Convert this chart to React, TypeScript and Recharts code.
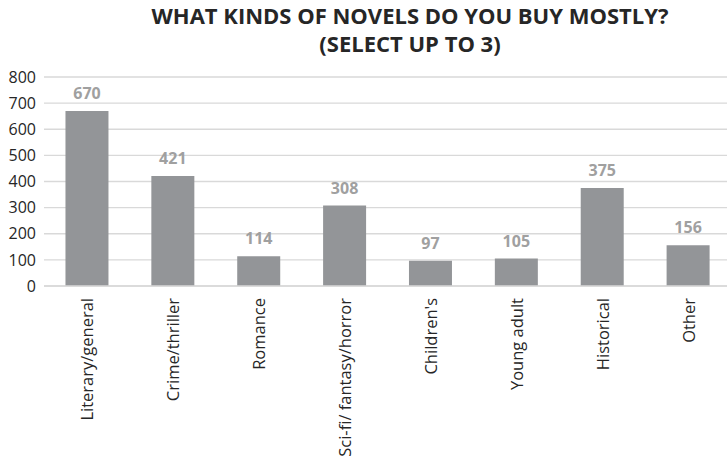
import React from "react";
import { BarChart, Bar, XAxis, YAxis, CartesianGrid, LabelList } from "recharts";

const categories = [
  "Literary/general",
  "Crime/thriller",
  "Romance",
  "Sci-fi/ fantasy/horror",
  "Children's",
  "Young adult",
  "Historical",
  "Other",
];
const counts = [670, 421, 114, 308, 97, 105, 375, 156];
const yTicks = [0, 100, 200, 300, 400, 500, 600, 700, 800];

const data = categories.map((name, i) => ({ name, value: counts[i] }));

const FONT = "'Open Sans', sans-serif";

const XTick = (props: any) => {
  const { x, y, payload } = props;
  return (
    <text
      x={x}
      y={y}
      transform={`rotate(-90, ${x}, ${y})`}
      textAnchor="end"
      dominantBaseline="central"
      fontFamily={FONT}
      fontSize={16.5}
      fill="#262626"
    >
      {payload.value}
    </text>
  );
};

export default function App() {
  return (
    <div
      style={{
        position: "absolute",
        left: 0,
        top: 0,
        width: 727,
        height: 457,
        overflow: "hidden",
        background: "#fff",
      }}
    >
      <div
        style={{
          position: "absolute",
          left: 60,
          width: 700,
          top: 1,
          textAlign: "center",
          fontFamily: FONT,
          fontWeight: 700,
          fontSize: 22,
          lineHeight: "28px",
          color: "#262626",
        }}
      >
        WHAT KINDS OF NOVELS DO YOU BUY MOSTLY?
        <br />
        (SELECT UP TO 3)
      </div>
      <BarChart
        width={731}
        height={457}
        data={data}
        margin={{ top: 77, right: 0, left: 0, bottom: 0 }}
        barCategoryGap="25%"
      >
        <CartesianGrid vertical={false} stroke="#d9d9d9" strokeWidth={1.3} />
        <XAxis
          dataKey="name"
          interval={0}
          height={171}
          tickLine={false}
          axisLine={{ stroke: "#d9d9d9", strokeWidth: 1.3 }}
          tick={<XTick />}
          tickMargin={6}
        />
        <YAxis
          width={44}
          domain={[0, 800]}
          ticks={yTicks}
          interval={0}
          tickLine={false}
          axisLine={false}
          tick={{ fontFamily: FONT, fontSize: 16, fill: "#262626" }}
        />
        <Bar dataKey="value" fill="#939598" isAnimationActive={false}>
          <LabelList
            dataKey="value"
            position="top"
            offset={12}
            style={{ fontFamily: FONT, fontSize: 16, fontWeight: 700, fill: "#a0a0a0" }}
          />
        </Bar>
      </BarChart>
    </div>
  );
}
